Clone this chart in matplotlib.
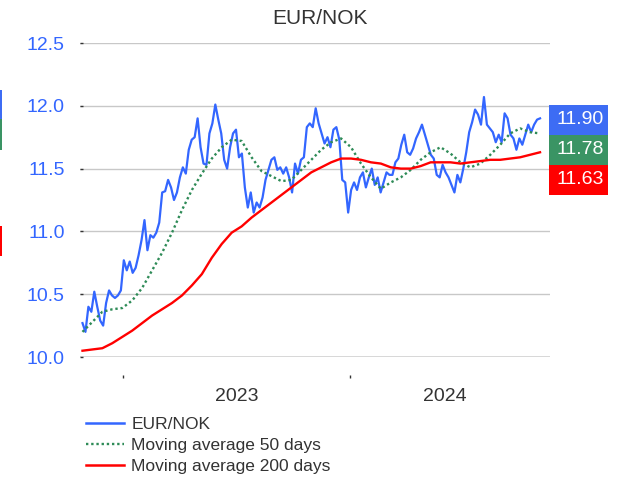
import matplotlib
matplotlib.use('Agg')
import matplotlib.pyplot as plt
import matplotlib.dates as mdates
from matplotlib.patches import Rectangle
from matplotlib.lines import Line2D
from matplotlib import font_manager
import pandas as pd

# EUR/NOK
price = [10.27, 10.20, 10.40, 10.36, 10.52, 10.40, 10.29, 10.25, 10.43, 10.53,
         10.49, 10.47, 10.49, 10.53, 10.77, 10.69, 10.76, 10.67, 10.71, 10.81,
         10.93, 11.09, 10.85, 10.97, 10.95, 10.99, 11.07, 11.31, 11.32, 11.41,
         11.35, 11.25, 11.31, 11.43, 11.51, 11.46, 11.65, 11.73, 11.75, 11.90,
         11.67, 11.54, 11.53, 11.78, 11.86, 12.01, 11.89, 11.78, 11.57, 11.50,
         11.67, 11.78, 11.81, 11.59, 11.62, 11.35, 11.19, 11.31, 11.15, 11.23,
         11.19, 11.27, 11.41, 11.49, 11.57, 11.59, 11.49, 11.51, 11.46, 11.51,
         11.43, 11.31, 11.54, 11.46, 11.57, 11.59, 11.83, 11.86, 11.83, 11.98,
         11.86, 11.78, 11.70, 11.75, 11.67, 11.81, 11.83, 11.73, 11.41, 11.39,
         11.15, 11.33, 11.39, 11.33, 11.43, 11.47, 11.35, 11.43, 11.50, 11.37,
         11.43, 11.31, 11.39, 11.47, 11.45, 11.45, 11.55, 11.58, 11.69, 11.77,
         11.63, 11.61, 11.66, 11.74, 11.79, 11.85, 11.77, 11.69, 11.61, 11.58,
         11.45, 11.43, 11.53, 11.47, 11.43, 11.37, 11.31, 11.45, 11.39, 11.50,
         11.63, 11.79, 11.87, 11.97, 11.93, 11.85, 12.07, 11.85, 11.82, 11.79,
         11.71, 11.77, 11.71, 11.94, 11.90, 11.77, 11.74, 11.65, 11.74, 11.69,
         11.77, 11.85, 11.79, 11.85, 11.89, 11.90]

ma50 = [10.20, 10.28, 10.36, 10.38, 10.39, 10.45, 10.55, 10.69, 10.83, 10.99,
        11.17, 11.33, 11.46, 11.58, 11.67, 11.73, 11.72, 11.59, 11.48, 11.44,
        11.40, 11.41, 11.49, 11.57, 11.65, 11.71, 11.74, 11.67, 11.54, 11.43,
        11.34, 11.39, 11.43, 11.49, 11.57, 11.63, 11.67, 11.62, 11.55, 11.51,
        11.54, 11.61, 11.69, 11.78, 11.82, 11.79, 11.78]

ma200 = [10.05, 10.06, 10.07, 10.11, 10.16, 10.21, 10.27, 10.33, 10.38, 10.43,
         10.49, 10.57, 10.66, 10.79, 10.90, 10.99, 11.04, 11.11, 11.17, 11.23,
         11.29, 11.35, 11.41, 11.47, 11.51, 11.55, 11.58, 11.58, 11.57, 11.55,
         11.54, 11.51, 11.50, 11.50, 11.52, 11.55, 11.55, 11.55, 11.54, 11.55,
         11.56, 11.57, 11.57, 11.58, 11.59, 11.61, 11.63]

start, end = '2022-10-28', '2024-11-01'
names = ['EUR/NOK', 'Moving average 50 days', 'Moving average 200 days']
years = ['2023', '2024']

fams = {f.name for f in font_manager.fontManager.ttflist}
narrow = 'Liberation Sans Narrow' if 'Liberation Sans Narrow' in fams else 'Liberation Sans'
plt.rcParams['font.family'] = [narrow, 'DejaVu Sans']

blue = '#3366ff'
green = '#2e8b57'
red = '#ff0000'
box_blue = '#3d6cf4'
box_green = '#3a9464'
dark = '#333333'

W, H = 623, 483
fig = plt.figure(figsize=(W / 100, H / 100), dpi=100)
ax = fig.add_axes([80 / W, 1 - 357 / H, 470 / W, 314 / H])

d_price = pd.date_range(start, end, periods=len(price))
d_ma = pd.date_range(start, end, periods=len(ma50))

ax.plot(d_price, price, color=blue, lw=1.6)
ax.plot(d_ma, ma50, color=green, lw=1.7, ls=(0, (1, 1.2)))
ax.plot(d_ma, ma200, color=red, lw=1.7)

ax.set_ylim(10, 12.5)
ax.set_xlim(pd.Timestamp('2022-10-24'), pd.Timestamp('2024-11-17'))

yt = [10.0, 10.5, 11.0, 11.5, 12.0, 12.5]
ax.set_yticks(yt)
ax.set_yticklabels(['%.1f' % v for v in yt])
ax.grid(axis='y', color='#c8c8c8', lw=1)
ax.axhline(10, color='#d8d8d8', lw=2, zorder=0.5)
ax.tick_params(axis='y', direction='in', length=2.5, width=1, color=dark,
               labelcolor=blue, labelsize=14, pad=11)

for s in ax.spines.values():
    s.set_visible(False)
ax.spines['bottom'].set_position(('outward', 13))

ax.xaxis.set_major_locator(mdates.YearLocator())
ax.xaxis.set_major_formatter(plt.NullFormatter())
mid24 = pd.Timestamp('2024-01-01') + (pd.Timestamp(end) - pd.Timestamp('2024-01-01')) / 2
ax.set_xticks([pd.Timestamp('2023-07-02'), mid24], minor=True)
ax.set_xticklabels(years, minor=True)
ax.tick_params(axis='x', which='major', direction='out', length=2.5, width=1, color=dark)
ax.tick_params(axis='x', which='minor', length=0, labelsize=14, labelcolor=dark, pad=9)

fig.text(320 / W, 1 - 18 / H, 'EUR/NOK', ha='center', va='center', fontsize=15, color=dark)

handles = [Line2D([], [], color=blue, lw=1.8),
           Line2D([], [], color=green, lw=1.7, ls=(0, (1, 1.2))),
           Line2D([], [], color=red, lw=1.8)]
leg = fig.legend(handles, names, loc='upper left', bbox_to_anchor=(86 / W, 1 - 417 / H),
                 frameon=False, fontsize=12.5, handlelength=2.2, handletextpad=0.4,
                 labelspacing=0.33, borderpad=0, borderaxespad=0)
for t in leg.get_texts():
    t.set_color(dark)

# value boxes on the right
box_vals = [price[-1], ma50[-1], ma200[-1]]
box_cols = [box_blue, box_green, red]
for i, (v, c) in enumerate(zip(box_vals, box_cols)):
    y0 = 105 + 30 * i
    fig.patches.append(Rectangle((549 / W, 1 - (y0 + 30) / H), 59 / W, 30 / H,
                                 transform=fig.transFigure, color=c, lw=0))
    fig.text(604 / W, 1 - (y0 + 15) / H, '%.2f' % v, ha='right', va='center',
             fontsize=14, color='white')

# clipped marks at the left edge
for c, ya, yb in [(box_blue, 90, 119), (box_green, 119, 150), (red, 226, 256)]:
    fig.patches.append(Rectangle((0, 1 - yb / H), 2 / W, (yb - ya) / H,
                                 transform=fig.transFigure, color=c, lw=0))

fig.savefig('out.png', dpi=100)
